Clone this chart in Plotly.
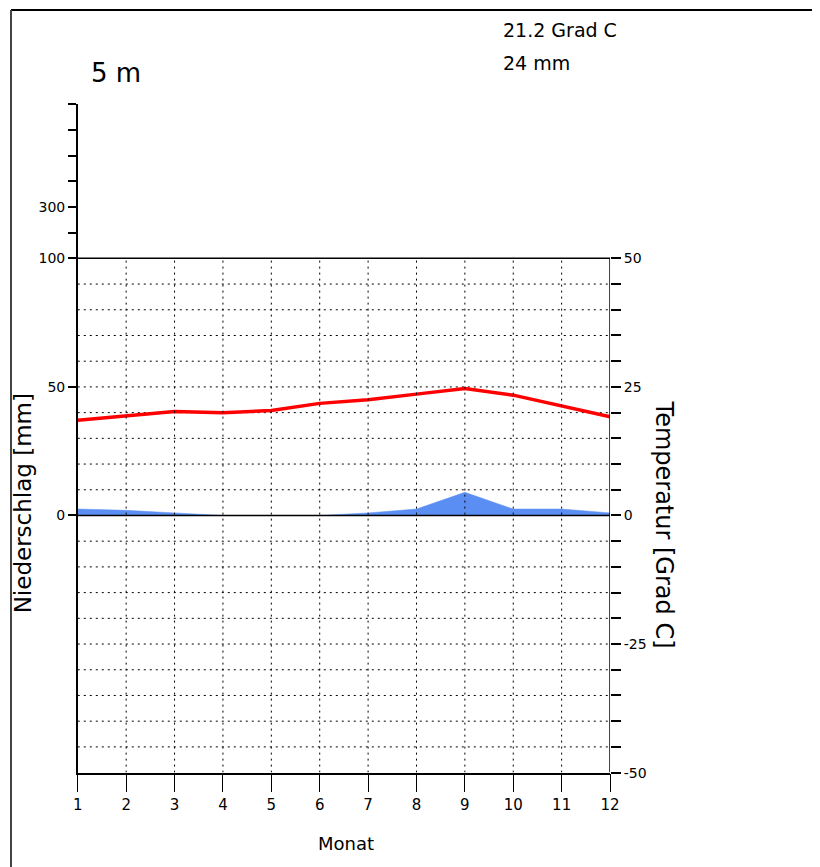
import plotly.graph_objects as go

# ---- data ----
months = [1, 2, 3, 4, 5, 6, 7, 8, 9, 10, 11, 12]
temperature_c = [18.5, 19.4, 20.2, 20.0, 20.4, 21.8, 22.5, 23.6, 24.7, 23.4, 21.3, 19.2]
precip_mm = [2.5, 2.0, 1.0, 0.0, 0.0, 0.0, 1.0, 2.5, 9.0, 2.5, 2.5, 1.0]
station_height = "5 m"
mean_temp_text = "21.2 Grad C"
sum_precip_text = "24 mm"

left_tickvals = [0, 50, 100, 110, 120, 130, 140, 150, 160]
left_ticktext = ["0", "50", "100", "", "300", "", "", "", ""]
right_tickvals = list(range(-50, 51, 5))
right_ticktext = [str(v) if v % 25 == 0 else "" for v in right_tickvals]

# calibration of figure pixels to the photographed page
OX, OY, SX, SY = 11.0, 8.0, 0.985, 0.99
W, H = 822, 868
FONT = "DejaVu Sans, Liberation Sans, Arial, sans-serif"


def px(x):
    return ((x - OX) / SX) / W


def py(y):
    return 1 - ((y - OY) / SY) / H


fig = go.Figure()

fig.add_trace(go.Scatter(
    x=months, y=precip_mm, yaxis="y", mode="lines",
    fill="tozeroy", fillcolor="#5b8ef2",
    line=dict(color="#5b8ef2", width=0.5),
    hoverinfo="skip", showlegend=False,
))
fig.add_trace(go.Scatter(
    x=months, y=temperature_c, yaxis="y2", mode="lines",
    line=dict(color="#ff0000", width=3.5),
    showlegend=False,
))

shapes = []
# horizontal dotted grid (below traces)
for t in range(-45, 50, 5):
    if t == 0:
        continue
    shapes.append(dict(type="line", xref="x", yref="y2", x0=1, x1=12, y0=t, y1=t,
                       line=dict(color="black", width=1, dash="2px,4px"), layer="below"))
# vertical dotted grid
for m in months[1:-1]:
    shapes.append(dict(type="line", xref="x", yref="y2", x0=m, x1=m, y0=-50, y1=50,
                       line=dict(color="black", width=1, dash="2px,4px"), layer="above"))
# solid lines
for t in (50, 0):
    shapes.append(dict(type="line", xref="x", yref="y2", x0=1, x1=12, y0=t, y1=t,
                       line=dict(color="black", width=1.5), layer="above"))
shapes.append(dict(type="line", xref="x", yref="y2", x0=12, x1=12, y0=-50, y1=50,
                   line=dict(color="black", width=1.5), layer="above"))
# frame (top and left)
shapes.append(dict(type="line", xref="paper", yref="paper", x0=px(9), x1=1, y0=py(10), y1=py(10),
                   line=dict(color="black", width=2)))
shapes.append(dict(type="line", xref="paper", yref="paper", x0=px(9), x1=px(9), y0=py(10), y1=0,
                   line=dict(color="#444444", width=2)))

annotations = [
    dict(text=station_height, x=px(87), y=py(73), xref="paper", yref="paper",
         xanchor="left", yanchor="middle", showarrow=False,
         font=dict(family=FONT, size=26, color="black")),
    dict(text=mean_temp_text, x=px(501), y=py(30), xref="paper", yref="paper",
         xanchor="left", yanchor="middle", showarrow=False,
         font=dict(family=FONT, size=19, color="black")),
    dict(text=sum_precip_text, x=px(501), y=py(63), xref="paper", yref="paper",
         xanchor="left", yanchor="middle", showarrow=False,
         font=dict(family=FONT, size=19, color="black")),
    dict(text="Niederschlag [mm]", x=px(21), y=py(503), xref="paper", yref="paper",
         xanchor="center", yanchor="middle", textangle=-90, showarrow=False,
         font=dict(family=FONT, size=23, color="black")),
    dict(text="Temperatur [Grad C]", x=px(664), y=py(524), xref="paper", yref="paper",
         xanchor="center", yanchor="middle", textangle=90, showarrow=False,
         font=dict(family=FONT, size=24, color="black")),
    dict(text="Monat", x=px(345), y=py(843), xref="paper", yref="paper",
         xanchor="center", yanchor="middle", showarrow=False,
         font=dict(family=FONT, size=18, color="black")),
]

ydom = [py(772), py(104)]

fig.update_layout(
    width=W, height=H,
    margin=dict(l=0, r=0, t=0, b=0),
    paper_bgcolor="white", plot_bgcolor="white",
    font=dict(family=FONT, size=14, color="black"),
    xaxis=dict(domain=[px(76), px(610)], range=[1, 12], tickvals=months,
               ticks="outside", ticklen=18, tickwidth=1, tickcolor="black",
               showline=True, linecolor="black", linewidth=1.5,
               showgrid=False, zeroline=False, tickfont=dict(size=15)),
    yaxis=dict(domain=ydom, range=[-100, 160], tickvals=left_tickvals, ticktext=left_ticktext,
               ticks="outside", ticklen=8, tickwidth=1.5, tickcolor="black",
               showline=True, linecolor="black", linewidth=1.5,
               showgrid=False, zeroline=False, tickfont=dict(size=14)),
    yaxis2=dict(domain=ydom, range=[-50, 80], overlaying="y", side="right", anchor="x",
                tickvals=right_tickvals, ticktext=right_ticktext,
                ticks="outside", ticklen=10, tickwidth=1.5, tickcolor="black",
                showline=False, showgrid=False, zeroline=False, tickfont=dict(size=14)),
    shapes=shapes,
    annotations=annotations,
    showlegend=False,
)

fig.write_html("out.html")
